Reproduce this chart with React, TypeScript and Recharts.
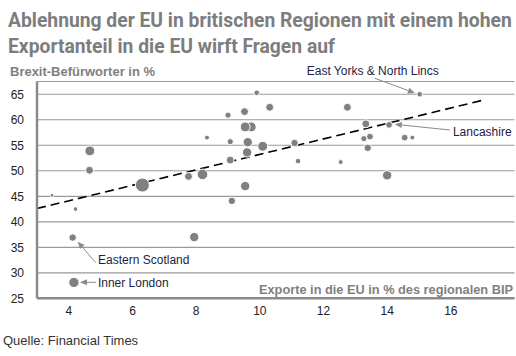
import React from 'react';
import { ScatterChart, Scatter, XAxis, YAxis, ZAxis, CartesianGrid, ReferenceLine } from 'recharts';

// Exporte in die EU (% des regionalen BIP)
const exporte = [
  3.47, 4.21, 4.12, 4.16, 4.66, 4.65, 6.31, 7.76, 8.2, 7.94,
  8.34, 9.0, 9.07, 9.07, 9.12, 9.52, 9.73, 9.54, 9.62, 9.6,
  9.54, 9.9, 10.09, 10.31, 11.09, 11.2, 12.54, 12.75, 13.27, 13.46,
  13.33, 13.39, 14.0, 14.06, 14.55, 14.79, 15.02,
];
// Brexit-Befürworter in %
const befuerworter = [
  45.2, 42.5, 36.9, 28.1, 53.9, 50.1, 47.2, 48.9, 49.3, 37.0,
  56.5, 60.9, 55.7, 52.1, 44.1, 61.6, 58.6, 58.6, 55.6, 53.6,
  47.0, 65.3, 54.8, 62.45, 55.45, 51.9, 51.7, 62.45, 56.3, 56.7,
  59.2, 54.5, 49.1, 59.0, 56.5, 56.5, 65.0,
];
// Gewicht der Region (Blasengröße)
const gewicht = [
  4, 6, 16, 30, 28, 18, 56, 18, 32, 25,
  7, 11, 11, 18, 16, 18, 28, 28, 25, 25,
  25, 9, 28, 18, 16, 9, 7, 18, 11, 13,
  18, 16, 25, 13, 13, 7, 9,
];

const xTicks = [4, 6, 8, 10, 12, 14, 16];
const yTicks = [25, 30, 35, 40, 45, 50, 55, 60, 65];

const trendX = [3, 16.95];
const trendY = [42.6, 63.75];

const hinweise = [
  { text: 'East Yorks & North Lincs', von: [13.61, 68.14], nach: [14.87, 65.25] },
  { text: 'Lancashire', von: [15.97, 58.0], nach: [14.24, 59.1] },
  { text: 'Eastern Scotland', von: [4.84, 32.0], nach: [4.28, 36.1] },
  { text: 'Inner London', von: [4.85, 28.14], nach: [4.35, 28.14] },
];
// Textlage relativ zum Pfeilanfang
const textLage: Record<string, { dx: number; dy: number; anchor: string }> = {
  'East Yorks & North Lincs': { dx: -2, dy: -3, anchor: 'middle' },
  Lancashire: { dx: 3, dy: 6, anchor: 'start' },
  'Eastern Scotland': { dx: 2.5, dy: 1.5, anchor: 'start' },
  'Inner London': { dx: 2, dy: 4.3, anchor: 'start' },
};

const titel = ['Ablehnung der EU in britischen Regionen mit einem hohen', 'Exportanteil in die EU wirft Fragen auf'];
const titelBreite = [504, 327];

const regionen = exporte.map((x, i) => ({ x, y: befuerworter[i], z: gewicht[i] }));

const FONT = '"Liberation Sans", Arial, sans-serif';
const TITEL_FONT = 'Roboto, "Liberation Sans", sans-serif';
const GRAU = '#808080';

// Titelschrift schmal ziehen (kein Condensed-Font vorhanden)
const textBreite = (text: string, font: string) => {
  const ctx = document.createElement('canvas').getContext('2d');
  if (!ctx) return text.length * 11;
  ctx.font = font;
  return ctx.measureText(text).width;
};

const Pfeil = (props: any) => {
  const { x1, y1, x2, y2, text } = props;
  const lage = textLage[text];
  const ang = Math.atan2(y2 - y1, x2 - x1);
  const len = 7;
  const w = 3;
  const bx = x2 - len * Math.cos(ang);
  const by = y2 - len * Math.sin(ang);
  const px = -Math.sin(ang) * w;
  const py = Math.cos(ang) * w;
  return (
    <g>
      <line x1={x1} y1={y1} x2={bx} y2={by} stroke="#8a8a8a" strokeWidth={1} />
      <polygon points={`${x2},${y2} ${bx + px},${by + py} ${bx - px},${by - py}`} fill="#8a8a8a" />
      <text
        x={x1 + lage.dx}
        y={y1 + lage.dy}
        textAnchor={lage.anchor as any}
        fontFamily={FONT}
        fontSize={12}
        fill="#1c2444"
      >
        {text}
      </text>
    </g>
  );
};

const App: React.FC = () => {
  const titelFont = `bold 21px ${TITEL_FONT}`;
  return (
    <div style={{ position: 'absolute', left: 0, top: 0, width: 516, height: 356, background: '#fff' }}>
      <ScatterChart width={516} height={356} margin={{ top: 81.5, right: 1.5, bottom: 27.7, left: 0 }}>
        <CartesianGrid vertical={false} stroke="#9a9a9a" strokeWidth={1.2} />
        <XAxis
          type="number"
          dataKey="x"
          domain={[3, 18]}
          ticks={xTicks}
          height={30}
          tickLine={false}
          axisLine={{ stroke: '#8a8a8a', strokeWidth: 2.5 }}
          tick={{ fill: '#222', fontSize: 12, fontFamily: FONT }}
          allowDataOverflow
        />
        <YAxis
          type="number"
          dataKey="y"
          domain={[25, 67.5]}
          ticks={yTicks}
          width={37}
          tickLine={false}
          tickMargin={7}
          axisLine={{ stroke: '#8a8a8a', strokeWidth: 2.5 }}
          tick={{ fill: '#222', fontSize: 12, fontFamily: FONT }}
          allowDataOverflow
        />
        <ZAxis type="number" dataKey="z" domain={[0, 49]} range={[0, 49 * Math.PI]} />
        <Scatter data={regionen} fill={GRAU} stroke="#fff" strokeWidth={1} isAnimationActive={false} />
        <ReferenceLine
          segment={[
            { x: trendX[0], y: trendY[0] },
            { x: trendX[1], y: trendY[1] },
          ]}
          stroke="#000"
          strokeWidth={1.6}
          strokeDasharray="9 5"
          ifOverflow="visible"
        />
        {hinweise.map((h) => (
          <ReferenceLine
            key={h.text}
            segment={[
              { x: h.von[0], y: h.von[1] },
              { x: h.nach[0], y: h.nach[1] },
            ]}
            ifOverflow="visible"
            shape={(p: any) => <Pfeil {...p} text={h.text} />}
          />
        ))}
      </ScatterChart>
      <svg width={516} height={356} style={{ position: 'absolute', left: 0, top: 0, pointerEvents: 'none' }}>
        {titel.map((t, i) => {
          const sx = titelBreite[i] / textBreite(t, titelFont);
          return (
            <text
              key={t}
              transform={`translate(8, ${26.7 + i * 26}) scale(${sx}, 1)`}
              fontFamily={TITEL_FONT}
              fontWeight="bold"
              fontSize={21}
              fill="#7d7d7d"
            >
              {t}
            </text>
          );
        })}
        <text x={10} y={76} fontFamily={FONT} fontWeight="bold" fontSize={12.5} fill={GRAU} textLength={145} lengthAdjust="spacingAndGlyphs">
          Brexit-Befürworter in %
        </text>
        <text
          x={259}
          y={294.3}
          fontFamily={FONT}
          fontWeight="bold"
          fontSize={12.5}
          fill={GRAU}
          textLength={254}
          lengthAdjust="spacingAndGlyphs"
        >
          Exporte in die EU in % des regionalen BIP
        </text>
        <text x={3} y={344.7} fontFamily={FONT} fontSize={13} fill="#333">
          Quelle: Financial Times
        </text>
      </svg>
    </div>
  );
};

export default App;
